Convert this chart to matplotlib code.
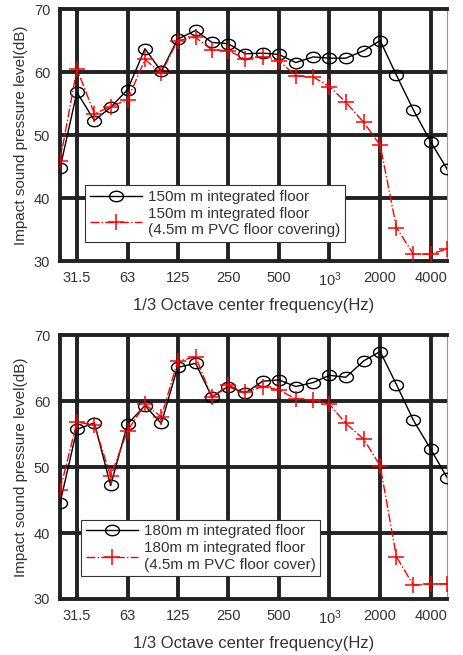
import numpy as np
import matplotlib
matplotlib.use("Agg")
import matplotlib.pyplot as plt
from matplotlib.path import Path

plt.rcParams['font.family'] = ['Liberation Sans', 'DejaVu Sans']
plt.rcParams['mathtext.fontset'] = 'custom'
plt.rcParams['mathtext.rm'] = 'Liberation Sans'
plt.rcParams['mathtext.it'] = 'Liberation Sans'

# 1/3 octave bands
freq = [25, 31.5, 40, 50, 63, 80, 100, 125, 160, 200, 250, 315, 400, 500,
        630, 800, 1000, 1250, 1600, 2000, 2500, 3150, 4000, 5000]

floor150 = [44.7, 56.8, 52.3, 54.4, 57.2, 63.7, 60.1, 65.2, 66.6, 64.7, 64.5, 62.9,
            63.0, 62.8, 61.5, 62.4, 62.2, 62.2, 63.4, 65.0, 59.5, 54.0, 48.9, 44.6]
floor150_pvc = [45.9, 60.5, 53.4, 54.5, 55.6, 62.0, 59.8, 65.0, 65.5, 63.5, 63.4, 62.1,
                62.4, 61.8, 59.4, 59.2, 57.7, 55.2, 52.0, 48.4, 35.3, 31.1, 31.1, 31.9]

floor180 = [44.5, 55.7, 56.7, 47.2, 56.5, 59.3, 56.6, 65.1, 65.7, 60.6, 62.2, 61.2,
            63.0, 63.2, 62.2, 62.8, 63.9, 63.6, 66.1, 67.5, 62.5, 57.1, 52.7, 48.4]
floor180_pvc = [46.5, 56.8, 56.4, 48.6, 55.5, 59.5, 57.6, 66.0, 66.7, 60.6, 62.4, 61.3,
                62.2, 61.7, 60.3, 60.2, 59.5, 56.6, 54.2, 50.2, 36.4, 32.1, 32.3, 32.3]

xticks = [31.5, 63, 125, 250, 500, 1000, 2000, 4000]
xticklabels = ['31.5', '63', '125', '250', '500', r'$10^3$', '2000', '4000']
yticks = [30, 40, 50, 60, 70]

labels_top = ['150m m integrated floor', '150m m integrated floor\n(4.5m m PVC floor covering)']
labels_bot = ['180m m integrated floor', '180m m integrated floor\n(4.5m m PVC floor cover)']

txt = '#333333'
gridc = '#222222'

# slightly flattened open circle marker
t = np.linspace(0, 2 * np.pi, 41)
ellipse = Path(np.column_stack([np.cos(t), 0.75 * np.sin(t)]))

fig = plt.figure(figsize=(4.63, 6.55), dpi=100)
ax1 = fig.add_axes([0.1296, 0.6015, 0.836, 0.3847])
ax2 = fig.add_axes([0.1296, 0.0855, 0.836, 0.4030])


def draw(ax, y1, y2, labels, legpos):
    ax.set_xscale('log')
    ax.set_xlim(25, 5000)
    ax.set_ylim(30, 70)
    for xv in xticks:
        ax.axvline(xv, color=gridc, lw=2.8, zorder=1)
    for yv in [40, 50, 60]:
        ax.axhline(yv, color=gridc, lw=2.8, zorder=1)
    l1, = ax.plot(freq, y1, '-', color='black', lw=1.0, marker=ellipse, ms=10,
                  mfc='none', mec='black', mew=1.0, zorder=3)
    l2, = ax.plot(freq, y2, '-.', color='red', lw=1.0, marker='+', ms=11,
                  mew=1.1, zorder=4)
    ax.set_xticks(xticks)
    ax.set_xticklabels(xticklabels)
    ax.minorticks_off()
    ax.set_yticks(yticks)
    ax.tick_params(length=0, labelsize=10.5, colors=txt, pad=7)
    for s in ['left', 'top', 'bottom']:
        ax.spines[s].set_color(gridc)
        ax.spines[s].set_linewidth(2.8)
    ax.spines['right'].set_color('#999999')
    ax.spines['right'].set_linewidth(0.8)
    ax.set_xlabel('1/3 Octave center frequency(Hz)', fontsize=12, color=txt, labelpad=6)
    ax.set_ylabel('Impact sound pressure level(dB)', fontsize=11, color=txt, labelpad=4)
    leg = ax.legend([l1, l2], labels, loc='upper left', bbox_to_anchor=legpos,
                    fontsize=11, frameon=True, fancybox=False, framealpha=1,
                    edgecolor='#333333', handlelength=3.4, borderpad=0.3,
                    labelspacing=0.2, handletextpad=0.4, borderaxespad=0)
    leg.get_frame().set_linewidth(0.8)
    leg.set_zorder(5)
    for tx in leg.get_texts():
        tx.set_color(txt)


draw(ax1, floor150, floor150_pvc, labels_top, (0.065, 0.30))
draw(ax2, floor180, floor180_pvc, labels_bot, (0.055, 0.30))

fig.savefig('out.png', dpi=100)
